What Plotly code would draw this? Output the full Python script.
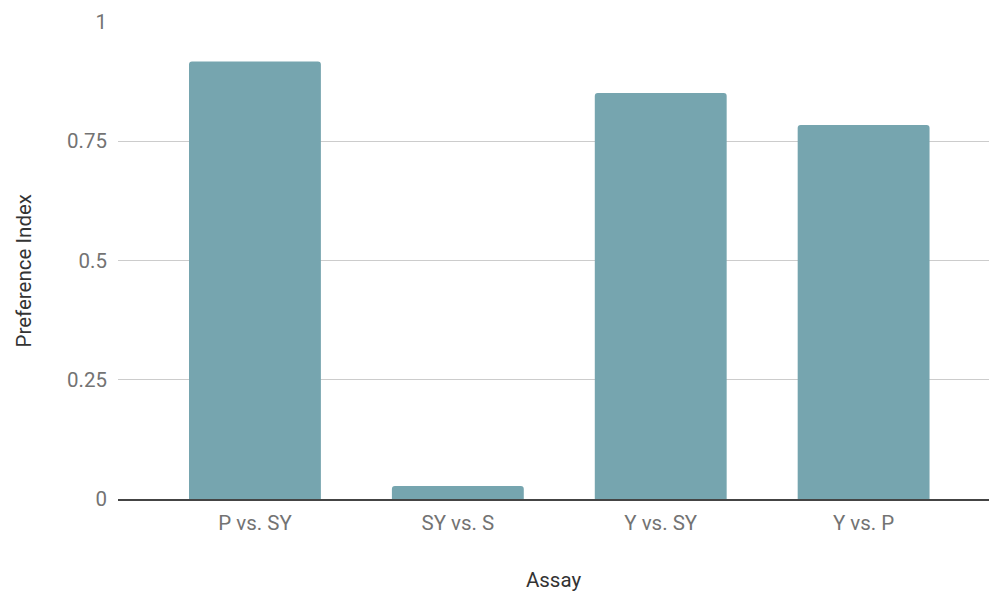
import plotly.graph_objects as go

categories = ["P vs. SY", "SY vs. S", "Y vs. SY", "Y vs. P"]
values = [0.917, 0.027, 0.851, 0.784]
y_tick_vals = [0, 0.25, 0.5, 0.75, 1]
y_tick_text = ["0", "0.25", "0.5", "0.75", "1"]

fig = go.Figure(
    go.Bar(
        x=categories,
        y=values,
        marker=dict(color="#76a5af", line=dict(width=0)),
        width=0.65,
    )
)

fig.update_layout(
    width=989,
    height=592,
    margin=dict(l=118, r=0, t=22, b=93, pad=0),
    paper_bgcolor="white",
    plot_bgcolor="white",
    font=dict(family="Roboto", size=20, color="#757575"),
    barcornerradius=3,
    showlegend=False,
    xaxis=dict(
        range=[-0.675, 3.618],
        showgrid=False,
        showline=True,
        linecolor="#444444",
        linewidth=2,
        ticks="",
        ticklabelstandoff=4,
        tickfont=dict(size=20.5, color="#737373"),
        title=dict(text="Assay", font=dict(size=20.5, color="#333333"), standoff=44),
    ),
    yaxis=dict(
        range=[0, 1],
        tickvals=y_tick_vals,
        ticktext=y_tick_text,
        showgrid=True,
        gridcolor="#cccccc",
        gridwidth=1,
        zeroline=False,
        ticks="",
        ticklabelstandoff=10,
        tickfont=dict(size=20.5, color="#737373"),
    ),
    annotations=[
        dict(
            text="Preference Index",
            textangle=-90,
            xref="paper",
            yref="paper",
            x=-0.108,
            y=0.479,
            xanchor="center",
            yanchor="middle",
            showarrow=False,
            font=dict(family="Roboto", size=20.5, color="#333333"),
        )
    ],
)

fig.write_html("out.html")
